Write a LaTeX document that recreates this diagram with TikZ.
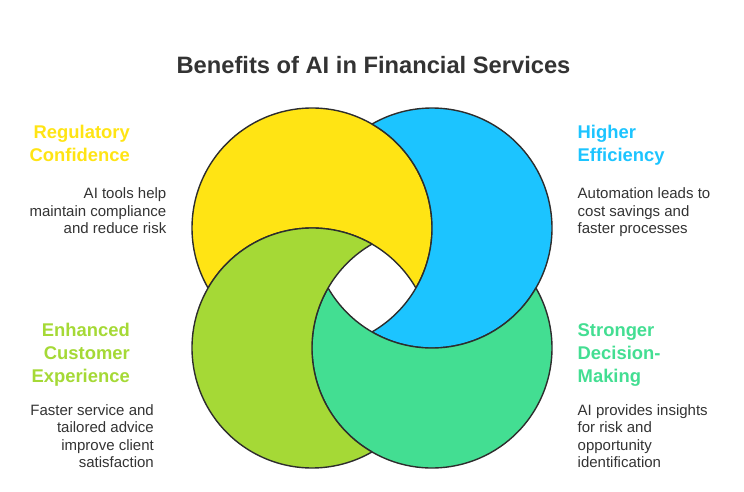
\documentclass[tikz,border=0pt]{standalone}
\usepackage{fontspec}
\setmainfont{Liberation Sans}
\definecolor{cyel}{HTML}{FFE414}
\definecolor{cblu}{HTML}{1CC4FF}
\definecolor{cgrn}{HTML}{A5D936}
\definecolor{ctea}{HTML}{43DE92}
\definecolor{cink}{HTML}{333333}
\definecolor{cline}{HTML}{2D2D2D}
\begin{document}
\begin{tikzpicture}[x=1pt,y=1pt,
  ring/.style={draw=cline,line width=1.4pt,line join=round},
  titletext/.style={inner sep=0pt,text=cink,font=\fontsize{23.7}{28}\selectfont\bfseries},
  headtext/.style={inner sep=0pt,font=\fontsize{18.4}{22.6}\selectfont\bfseries},
  bodytext/.style={inner sep=0pt,text=cink,font=\fontsize{15}{17.5}\selectfont},
  leftside/.style={anchor=base east,align=right},
  rightside/.style={anchor=base west,align=left}]
\useasboundingbox (0,0) rectangle (744,-492);
% intersection points
\coordinate (Ptop) at (372,-124.08);
\coordinate (Pleft) at (208.08,-288);
\coordinate (Pbot) at (372,-451.92);
\coordinate (Pright) at (535.92,-288);
% yellow
\filldraw[ring,fill=cyel] (Ptop) arc[start angle=60,end angle=210,radius=120]
  arc[start angle=150,end angle=30,radius=120]
  arc[start angle=-30,end angle=60,radius=120] -- cycle;
% blue
\filldraw[ring,fill=cblu] (Pright) arc[start angle=-30,end angle=120,radius=120]
  arc[start angle=60,end angle=-60,radius=120]
  arc[start angle=-120,end angle=-30,radius=120] -- cycle;
% teal
\filldraw[ring,fill=ctea] (Pbot) arc[start angle=-120,end angle=30,radius=120]
  arc[start angle=-30,end angle=-150,radius=120]
  arc[start angle=150,end angle=240,radius=120] -- cycle;
% green
\filldraw[ring,fill=cgrn] (Pleft) arc[start angle=150,end angle=300,radius=120]
  arc[start angle=240,end angle=120,radius=120]
  arc[start angle=60,end angle=150,radius=120] -- cycle;
% texts (base anchor = baseline of the last line)
\node[titletext,anchor=base] (title) at (373.5,-74) {Benefits of AI in Financial Services};
\node[headtext,leftside,text=cyel] (h1) at (130,-161.5) {Regulatory\\Confidence};
\node[bodytext,leftside] (b1) at (166.5,-233.5) {AI tools help\\maintain compliance\\and reduce risk};
\node[headtext,rightside,text=cblu] (h2) at (577.5,-161.5) {Higher\\Efficiency};
\node[bodytext,rightside] (b2) at (577.5,-233.5) {Automation leads to\\cost savings and\\faster processes};
\node[headtext,leftside,text=cgrn] (h3) at (130,-382) {Enhanced\\Customer\\Experience};
\node[bodytext,leftside] (b3) at (154,-467.5) {Faster service and\\tailored advice\\improve client\\satisfaction};
\node[headtext,rightside,text=ctea] (h4) at (577.5,-382) {Stronger\\Decision-\\Making};
\node[bodytext,rightside] (b4) at (577.5,-467.5) {AI provides insights\\for risk and\\opportunity\\identification};
\end{tikzpicture}
\end{document}
